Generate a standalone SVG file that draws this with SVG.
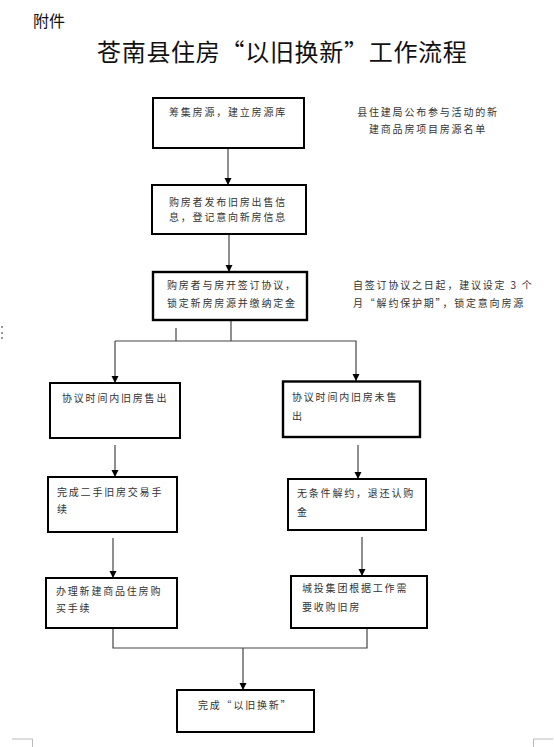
<svg xmlns="http://www.w3.org/2000/svg" width="554" height="747" viewBox="0 0 554 747">
<style>
.box{fill:#fff;stroke:#000;stroke-width:2}
.thick{stroke-width:2.4}
.t{font-family:"Noto Sans CJK SC","Noto Sans",sans-serif;font-size:10px;letter-spacing:1.8px;fill:#333}
.conn{fill:none;stroke:#444;stroke-width:1.2}
.title{font-family:"Noto Sans CJK SC","Noto Sans",sans-serif;fill:#111}
.mark{stroke:#bbb;stroke-width:1;fill:none}
</style>
<defs>
<marker id="arr" markerUnits="userSpaceOnUse" markerWidth="8" markerHeight="8" refX="7" refY="3.5" orient="auto">
<path d="M0,0 L7,3.5 L0,7 z" fill="#000"/>
</marker>
</defs>
<rect width="554" height="747" fill="#fff"/>
<text class="title" x="33" y="27" font-size="16">附件</text>
<text class="title" x="97" y="61" font-size="24" letter-spacing="0.7">苍南县住房“以旧换新”工作流程</text>

<g id="connectors">
<line class="conn" x1="228" y1="148" x2="228" y2="185" marker-end="url(#arr)"/>
<line class="conn" x1="229" y1="234" x2="229" y2="272" marker-end="url(#arr)"/>
<polyline class="conn" points="231,320 231,341"/>
<line class="conn" x1="176" y1="328" x2="176" y2="341" stroke-width="2"/>
<polyline class="conn" points="115,341 356,341 356,381" marker-end="url(#arr)"/>
<line class="conn" x1="115" y1="341" x2="115" y2="383" marker-end="url(#arr)"/>
<line class="conn" x1="115" y1="445" x2="115" y2="477" marker-end="url(#arr)"/>
<line class="conn" x1="358" y1="445" x2="358" y2="479" marker-end="url(#arr)"/>
<line class="conn" x1="113" y1="538" x2="113" y2="578" marker-end="url(#arr)"/>
<line class="conn" x1="362" y1="537" x2="362" y2="576" marker-end="url(#arr)"/>
<polyline class="conn" points="113,628 113,648 367,648 367,628"/>
<line class="conn" x1="243" y1="648" x2="243" y2="690" marker-end="url(#arr)"/>
</g>

<g id="n1"><rect class="box" x="153" y="98" width="151" height="50"/><text class="t" x="169" y="116">筹集房源，建立房源库</text></g>
<g id="note1"><text class="t" text-anchor="middle"><tspan x="428" y="116">县住建局公布参与活动的新</tspan><tspan x="428" y="133">建商品房项目房源名单</tspan></text></g>
<g id="n2"><rect class="box" x="152" y="185" width="154" height="49"/><text class="t"><tspan x="169" y="206">购房者发布旧房出售信</tspan><tspan x="169" y="221">息，登记意向新房信息</tspan></text></g>
<g id="n3"><rect class="box thick" x="153" y="272" width="154" height="48"/><text class="t"><tspan x="167" y="289">购房者与房开签订协议，</tspan><tspan x="167" y="307">锁定新房房源并缴纳定金</tspan></text></g>
<g id="note2"><text class="t"><tspan x="353" y="289">自签订协议之日起，建议设定 3 个</tspan></text><text class="t" letter-spacing="2.3"><tspan x="353" y="307">月“解约保护期”，锁定意向房源</tspan></text></g>
<g id="n4a"><rect class="box" x="50" y="383" width="130" height="55"/><text class="t" x="62" y="402">协议时间内旧房售出</text></g>
<g id="n4b"><rect class="box thick" x="283" y="381.5" width="137" height="55.5"/><text class="t" letter-spacing="3.1"><tspan x="292" y="401">协议时间内旧房未售</tspan><tspan x="292" y="420">出</tspan></text></g>
<g id="n5a"><rect class="box" x="48" y="477" width="129" height="55"/><text class="t" letter-spacing="2.2"><tspan x="57" y="496">完成二手旧房交易手</tspan><tspan x="57" y="513">续</tspan></text></g>
<g id="n5b"><rect class="box" x="288" y="479" width="138" height="51"/><text class="t"><tspan x="297" y="497">无条件解约，退还认购</tspan><tspan x="297" y="516">金</tspan></text></g>
<g id="n6a"><rect class="box" x="46" y="578" width="131" height="50"/><text class="t"><tspan x="56" y="595">办理新建商品住房购</tspan><tspan x="56" y="612">买手续</tspan></text></g>
<g id="n6b"><rect class="box" x="291" y="576" width="136" height="52"/><text class="t"><tspan x="302" y="592">城投集团根据工作需</tspan><tspan x="302" y="611">要收购旧房</tspan></text></g>
<g id="n7"><rect class="box" x="177" y="690" width="137" height="42"/><text class="t" x="198" y="709" letter-spacing="1">完成“以旧换新”</text></g>

<g id="marks">
<rect x="1" y="326" width="2" height="2" fill="#999"/>
<rect x="1" y="332" width="2" height="2" fill="#999"/>
<rect x="1" y="337" width="2" height="2" fill="#999"/>
<polyline class="mark" points="12,739 32.5,739 32.5,747"/>
<polyline class="mark" points="553,739 533.5,739 533.5,747"/>
</g>
</svg>
